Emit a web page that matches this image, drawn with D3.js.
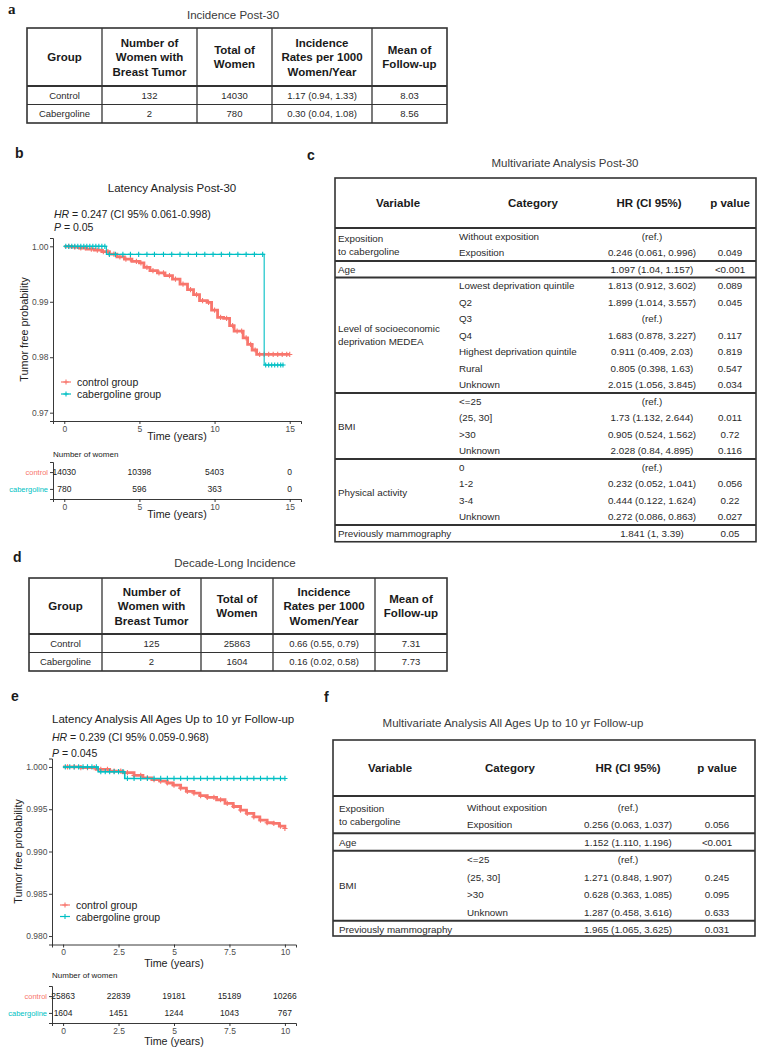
<!DOCTYPE html>
<html><head><meta charset="utf-8">
<script src="https://cdn.jsdelivr.net/npm/d3@7"></script>
<style>
body{margin:0;background:#fff}
svg{display:block;font-family:"Liberation Sans",Arial,sans-serif}
</style>
</head><body><svg id="fig" width="762" height="1050"></svg>
<script>
// ---------------- DATA ----------------
const incHeaders = [["Group"],["Number of","Women with","Breast Tumor"],["Total of","Women"],["Incidence","Rates per 1000","Women/Year"],["Mean of","Follow-up"]];
const incGroups = ["Control","Cabergoline"];
// panel a
const a_tumor = [132, 2];
const a_total = [14030, 780];
const a_rate = ["1.17 (0.94, 1.33)", "0.30 (0.04, 1.08)"];
const a_follow = [8.03, 8.56];
// panel d
const d_tumor = [125, 2];
const d_total = [25863, 1604];
const d_rate = ["0.66 (0.55, 0.79)", "0.16 (0.02, 0.58)"];
const d_follow = [7.31, 7.73];

const mvHeaders = ["Variable","Category","HR (CI 95%)","p value"];
// panel c
const c_variables = [["Exposition","to cabergoline"],["Age"],["Level of socioeconomic","deprivation MEDEA"],["BMI"],["Physical activity"],["Previously mammography"]];
const c_groupSizes = [2,1,7,4,4,1];
const c_categories = ["Without exposition","Exposition","","Lowest deprivation quintile","Q2","Q3","Q4","Highest deprivation quintile","Rural","Unknown","<=25","(25, 30]",">30","Unknown","0","1-2","3-4","Unknown",""];
const c_hr = ["(ref.)","0.246 (0.061, 0.996)","1.097 (1.04, 1.157)","1.813 (0.912, 3.602)","1.899 (1.014, 3.557)","(ref.)","1.683 (0.878, 3.227)","0.911 (0.409, 2.03)","0.805 (0.398, 1.63)","2.015 (1.056, 3.845)","(ref.)","1.73 (1.132, 2.644)","0.905 (0.524, 1.562)","2.028 (0.84, 4.895)","(ref.)","0.232 (0.052, 1.041)","0.444 (0.122, 1.624)","0.272 (0.086, 0.863)","1.841 (1, 3.39)"];
const c_p = ["","0.049","<0.001","0.089","0.045","","0.117","0.819","0.547","0.034","","0.011","0.72","0.116","","0.056","0.22","0.027","0.05"];
// panel f
const f_variables = [["Exposition","to cabergoline"],["Age"],["BMI"],["Previously mammography"]];
const f_groupSizes = [2,1,4,1];
const f_categories = ["Without exposition","Exposition","","<=25","(25, 30]",">30","Unknown",""];
const f_hr = ["(ref.)","0.256 (0.063, 1.037)","1.152 (1.110, 1.196)","(ref.)","1.271 (0.848, 1.907)","0.628 (0.363, 1.085)","1.287 (0.458, 3.616)","1.965 (1.065, 3.625)"];
const f_p = ["","0.056","<0.001","","0.245","0.095","0.633","0.031"];

// panel b KM (time, survival)
const b_control = [[0,1.0],[0.5,0.99985],[1.0,0.9997],[1.5,0.9995],[2.0,0.9993],[2.5,0.99905],[3.0,0.9986],[3.5,0.9981],[4.0,0.9977],[4.5,0.9973],[5.0,0.9970],[5.3,0.9962],[5.7,0.9956],[6.2,0.9952],[6.7,0.9947],[7.2,0.9941],[7.7,0.9932],[8.2,0.9922],[8.6,0.9913],[9.0,0.9902],[9.5,0.9899],[9.8,0.9885],[10.2,0.9872],[10.6,0.9870],[11.0,0.9857],[11.3,0.9847],[11.7,0.9847],[11.9,0.9835],[12.2,0.9823],[12.5,0.9813],[12.8,0.9805]];
const b_controlEnd = 15.0;
const b_cab = [[0,1.0],[2.8,0.99855],[13.3,0.9786]];
const b_cabEnd = 14.6;
const b_controlCensor = [0.3,0.7,1.1,1.4,1.8,2.2,2.6,2.9,3.3,3.7,4.1,4.4,4.8,5.1,5.5,5.9,6.3,6.6,7.0,7.4,7.9,8.4,8.8,9.2,9.6,10.0,10.4,10.8,11.2,11.5,11.8,12.1,12.4,12.7,13.0,13.3,13.6,13.9,14.2,14.5,14.8,15.0];
const b_cabCensor = [0.1,0.3,0.5,0.7,0.9,1.1,1.3,1.5,1.7,1.9,2.1,2.3,2.5,2.7,3.0,3.4,3.9,4.4,4.95,5.5,6.0,6.6,7.15,7.7,8.25,8.8,9.35,9.9,10.45,11.0,11.55,12.1,12.65,13.2,13.4,13.6,13.8,14.0,14.2,14.4,14.55];
const b_yTicks = [0.97,0.98,0.99,1.00];
const b_xTicks = [0,5,10,15];
const b_riskControl = [14030,10398,5403,0];
const b_riskCab = [780,596,363,0];

// panel e KM
const e_control = [[0,1.0],[0.8,0.99992],[1.5,0.99972],[2.1,0.9995],[2.7,0.99932],[3.2,0.999],[3.6,0.99872],[4.0,0.9985],[4.36,0.99832],[4.7,0.9981],[4.96,0.99784],[5.3,0.9975],[5.56,0.99712],[5.9,0.9969],[6.17,0.9966],[6.5,0.9964],[6.92,0.99612],[7.3,0.9957],[7.67,0.99532],[8.0,0.9949],[8.27,0.99452],[8.6,0.9941],[8.87,0.99372],[9.2,0.9934],[9.47,0.99332],[9.75,0.993],[10.0,0.99272]];
const e_controlEnd = 10.0;
const e_cab = [[0,1.0],[1.58,0.99944],[2.78,0.99864]];
const e_cabEnd = 10.0;
const e_controlCensor = [0.2,0.5,0.8,1.1,1.4,1.7,2.0,2.3,2.6,2.9,3.2,3.5,3.8,4.1,4.4,4.7,5.0,5.3,5.6,5.9,6.2,6.5,6.8,7.1,7.4,7.7,8.0,8.3,8.6,8.9,9.2,9.5,9.8,10.0];
const e_cabCensor = [0.1,0.3,0.5,0.7,0.9,1.1,1.3,1.5,1.7,1.9,2.1,2.3,2.5,2.7,2.9,3.2,3.5,3.8,4.1,4.4,4.7,5.0,5.3,5.6,5.9,6.2,6.5,6.8,7.1,7.4,7.7,8.0,8.3,8.6,8.9,9.2,9.5,9.8,10.0];
const e_yTicks = [0.980,0.985,0.990,0.995,1.000];
const e_xTicks = [0,2.5,5,7.5,10];
const e_riskControl = [25863,22839,19181,15189,10266];
const e_riskCab = [1604,1451,1244,1043,767];

const groupNames = ["control","cabergoline"];
const legendLabels = ["control group","cabergoline group"];

// ---------------- DRAWING ----------------
const svg = d3.select("#fig");
const RED = "#F8766D", TEAL = "#00BFC4";
const LINE = "#333", TXT = "#1a1a1a";

function txt(g, x, y, s, o) {
  o = o || {};
  return g.append("text").attr("x", x).attr("y", y).text(s)
    .attr("font-size", o.size || 10)
    .attr("font-weight", o.bold ? "bold" : null)
    .attr("font-family", o.family || null)
    .attr("text-anchor", o.anchor || "start")
    .attr("dominant-baseline", "central")
    .attr("fill", o.fill || TXT);
}

// panel labels
txt(svg, 8, 9, "a", {size: 15, bold: true, family: "Liberation Serif"});
txt(svg, 15, 153, "b", {size: 14, bold: true});
txt(svg, 307, 155, "c", {size: 14, bold: true});
txt(svg, 13, 557, "d", {size: 14, bold: true});
txt(svg, 11, 696, "e", {size: 14, bold: true});
txt(svg, 324, 697, "f", {size: 14, bold: true});

function hline(g, x1, x2, y, w) { g.append("line").attr("x1", x1).attr("x2", x2).attr("y1", y).attr("y2", y).attr("stroke", LINE).attr("stroke-width", w); }
function vline(g, x, y1, y2, w) { g.append("line").attr("x1", x).attr("x2", x).attr("y1", y1).attr("y2", y2).attr("stroke", LINE).attr("stroke-width", w); }

// incidence tables
function incTable(cfg, tumor, total, rate, follow) {
  const g = svg.append("g");
  const cols = cfg.cols;
  txt(g, cfg.titleX, cfg.titleY, cfg.title, {size: 11.5, anchor: "middle", fill: "#3a3a3a"});
  const rowsY = d3.scaleLinear().domain([0, 2]).range([cfg.hb, cfg.bottom]);
  g.append("rect").attr("x", cols[0]).attr("y", cfg.top).attr("width", cols[cols.length-1]-cols[0])
    .attr("height", cfg.bottom - cfg.top).attr("fill", "none").attr("stroke", LINE).attr("stroke-width", 1.6);
  cols.slice(1, -1).forEach(x => vline(g, x, cfg.top, cfg.bottom, 1.3));
  hline(g, cols[0], cols[cols.length-1], cfg.hb, 2.2);
  hline(g, cols[0], cols[cols.length-1], rowsY(1), 1.2);
  const mid = (cfg.top + cfg.hb) / 2;
  incHeaders.forEach((lines, c) => {
    const cx = (cols[c] + cols[c+1]) / 2;
    lines.forEach((l, i) => txt(g, cx, mid + (i - (lines.length-1)/2) * 14.5, l, {size: 11.5, bold: true, anchor: "middle"}));
  });
  incGroups.forEach((grp, r) => {
    const y = rowsY(r + 0.5);
    const vals = [grp, tumor[r], total[r], rate[r], follow[r].toFixed(2)];
    vals.forEach((v, c) => txt(g, (cols[c] + cols[c+1]) / 2, y, v, {size: 9.5, anchor: "middle", fill: "#2a2a2a"}));
  });
}
incTable({cols: [27,102,197,272,372,447], top: 28, hb: 86, bottom: 123, title: "Incidence Post-30", titleX: 233, titleY: 15}, a_tumor, a_total, a_rate, a_follow);
incTable({cols: [29,102,201,273,375,447], top: 578, hb: 634, bottom: 671, title: "Decade-Long Incidence", titleX: 235, titleY: 563}, d_tumor, d_total, d_rate, d_follow);

// multivariate tables
function mvTable(cfg, variables, sizes, cats, hr, pv) {
  const g = svg.append("g");
  txt(g, cfg.titleX, cfg.titleY, cfg.title, {size: 11.5, anchor: "middle", fill: "#3a3a3a"});
  const n = cats.length;
  const rowY = d3.scaleLinear().domain([0, n - 1]).range([cfg.hb + cfg.pad, cfg.hb + cfg.pad + (n - 1) * cfg.rowH]);
  const bottom = rowY(n - 1) + cfg.bpad;
  g.append("rect").attr("x", cfg.left).attr("y", cfg.top).attr("width", cfg.right - cfg.left)
    .attr("height", bottom - cfg.top).attr("fill", "none").attr("stroke", LINE).attr("stroke-width", 1.6);
  hline(g, cfg.left, cfg.right, cfg.hb, 2.2);
  mvHeaders.forEach((h, i) => txt(g, cfg.headX[i], cfg.headY, h, {size: 11.5, bold: true, anchor: "middle"}));
  let start = 0;
  sizes.forEach((s, gi) => {
    if (gi > 0) hline(g, cfg.left, cfg.right, rowY(start - 0.5), 1.8);
    const cy = (gi === 0 ? (cfg.hb + rowY(start + s - 0.5)) / 2 : (rowY(start - 0.5) + (gi === sizes.length - 1 ? bottom : rowY(start + s - 0.5))) / 2);
    const lines = variables[gi];
    const cyy = s === 1 ? rowY(start) : cy;
    lines.forEach((l, li) => txt(g, cfg.varX, cyy + (li - (lines.length-1)/2) * 13, l, {size: 9.8, fill: "#2a2a2a"}));
    start += s;
  });
  cats.forEach((c, i) => {
    const y = rowY(i);
    if (c) txt(g, cfg.catX, y, c, {size: 9.8, fill: "#2a2a2a"});
    txt(g, cfg.hrX, y, hr[i], {size: 9.8, anchor: "middle", fill: "#2a2a2a"});
    if (pv[i]) txt(g, cfg.pX, y, pv[i], {size: 9.8, anchor: "middle", fill: "#2a2a2a"});
  });
}
mvTable({title: "Multivariate Analysis Post-30", titleX: 565, titleY: 163, left: 335, right: 756, top: 178, headY: 203, hb: 228,
  rowH: 16.5, pad: 8.25, bpad: 8.5, varX: 338, catX: 459, hrX: 652, pX: 730, headX: [398, 533, 649, 730]},
  c_variables, c_groupSizes, c_categories, c_hr, c_p);
mvTable({title: "Multivariate Analysis All Ages Up to 10 yr Follow-up", titleX: 513, titleY: 723, left: 333, right: 755, top: 740, headY: 768, hb: 796,
  rowH: 17.5, pad: 11, bpad: 6.5, varX: 339, catX: 467, hrX: 628, pX: 717, headX: [390, 510, 628, 717]},
  f_variables, f_groupSizes, f_categories, f_hr, f_p);

// KM plots
function survAt(steps, t) { let s = steps[0][1]; for (const [ti, si] of steps) if (ti <= t) s = si; return s; }
const plus = "M-2.6,0H2.6M0,-2.6V2.6";

function kmPanel(cfg) {
  const g = svg.append("g");
  const x = d3.scaleLinear().domain(cfg.xDom).range(cfg.xRange);
  const y = d3.scaleLinear().domain(cfg.yDom).range(cfg.yRange);
  txt(g, cfg.titleX, cfg.titleY, cfg.title, {size: 11.5, anchor: cfg.titleAnchor, fill: "#222"});
  const hrT = g.append("text").attr("x", cfg.annX).attr("y", cfg.hrY).attr("font-size", 10.5).attr("dominant-baseline", "central").attr("fill", "#222");
  hrT.append("tspan").attr("font-style", "italic").text("HR");
  hrT.append("tspan").text(cfg.hrText);
  const pT = g.append("text").attr("x", cfg.annX).attr("y", cfg.pY).attr("font-size", 10.5).attr("dominant-baseline", "central").attr("fill", "#222");
  pT.append("tspan").attr("font-style", "italic").text("P");
  pT.append("tspan").text(cfg.pText);
  const ax = g.append("g").attr("transform", `translate(0,${cfg.yRange[0]})`)
    .call(d3.axisBottom(x).tickValues(cfg.xTicks).tickFormat(d => d).tickSizeOuter(0).tickSize(3).tickPadding(1.5));
  const ay = g.append("g").attr("transform", `translate(${cfg.xRange[0]},0)`)
    .call(d3.axisLeft(y).tickValues(cfg.yTicks).tickFormat(d3.format(cfg.yFmt)).tickSizeOuter(0).tickSize(3).tickPadding(1.5));
  [ax, ay].forEach(a => {
    a.selectAll("path,line").attr("stroke", "#222").attr("stroke-width", 0.9);
    a.selectAll("text").attr("font-size", 8.5).attr("fill", "#4d4d4d").attr("font-family", "Liberation Sans, Arial, sans-serif");
  });
  txt(g, (cfg.xRange[0] + cfg.xRange[1]) / 2, cfg.xLabY, "Time (years)", {size: 10.7, anchor: "middle", fill: "#222"});
  g.append("text").attr("transform", `translate(${cfg.yLabX},${(cfg.yRange[0] + cfg.yRange[1]) / 2}) rotate(-90)`)
    .attr("text-anchor", "middle").attr("dominant-baseline", "central").attr("font-size", 10.8).attr("fill", "#222").text("Tumor free probability");
  const line = d3.line().x(d => x(d[0])).y(d => y(d[1])).curve(d3.curveStepAfter);
  const series = [
    {steps: cfg.control, end: cfg.controlEnd, cens: cfg.controlCensor, color: RED, w: cfg.redW},
    {steps: cfg.cab, end: cfg.cabEnd, cens: cfg.cabCensor, color: TEAL, w: cfg.tealW}
  ];
  series.forEach(s => {
    const pts = s.steps.concat([[s.end, s.steps[s.steps.length - 1][1]]]);
    g.append("path").attr("d", line(pts)).attr("fill", "none").attr("stroke", s.color).attr("stroke-width", s.w);
    g.selectAll(null).data(s.cens).enter().append("path")
      .attr("transform", t => `translate(${x(t)},${y(survAt(s.steps, t))})`)
      .attr("d", plus).attr("stroke", s.color).attr("stroke-width", 1.1).attr("fill", "none");
  });
  [RED, TEAL].forEach((c, i) => {
    const ly = cfg.legY + i * cfg.legDy;
    g.append("line").attr("x1", cfg.legX - 5).attr("x2", cfg.legX + 5).attr("y1", ly).attr("y2", ly).attr("stroke", c).attr("stroke-width", 1.2);
    g.append("path").attr("transform", `translate(${cfg.legX},${ly})`).attr("d", plus).attr("stroke", c).attr("stroke-width", 1.1);
    txt(g, cfg.legX + 11, ly, legendLabels[i], {size: 10.5, fill: "#222"});
  });
  const ry = d3.scalePoint().domain(groupNames).range(cfg.riskRange).padding(0.6);
  txt(g, cfg.xRange[0], cfg.riskTitleY, "Number of women", {size: 8, fill: "#222"});
  const rax = g.append("g").attr("transform", `translate(0,${cfg.riskRange[1]})`)
    .call(d3.axisBottom(x).tickValues(cfg.xTicks).tickFormat(d => d).tickSizeOuter(0).tickSize(3).tickPadding(1.5));
  const ray = g.append("g").attr("transform", `translate(${cfg.xRange[0]},0)`)
    .call(d3.axisLeft(ry).tickSizeOuter(0).tickSize(3).tickPadding(2));
  [rax, ray].forEach(a => {
    a.selectAll("path,line").attr("stroke", "#222").attr("stroke-width", 0.9);
    a.selectAll("text").attr("font-size", 8.5).attr("fill", "#4d4d4d").attr("font-family", "Liberation Sans, Arial, sans-serif");
  });
  ray.selectAll("text").attr("font-size", 7.5).attr("fill", (d, i) => i === 0 ? RED : TEAL);
  [cfg.riskControl, cfg.riskCab].forEach((vals, gi) => {
    vals.forEach((v, i) => txt(g, x(cfg.xTicks[i]), ry(groupNames[gi]), v, {size: 8.5, anchor: "middle", fill: "#222"}));
  });
  txt(g, (cfg.xRange[0] + cfg.xRange[1]) / 2, cfg.riskXLabY, "Time (years)", {size: 10.7, anchor: "middle", fill: "#222"});
}

kmPanel({
  title: "Latency Analysis Post-30", titleX: 172, titleY: 188, titleAnchor: "middle",
  annX: 54, hrY: 214, pY: 227, hrText: " = 0.247 (CI 95% 0.061-0.998)", pText: " = 0.05",
  xDom: [-0.75, 15.75], xRange: [53, 301], yDom: [0.9685, 1.0015], yRange: [421, 238],
  xTicks: b_xTicks, yTicks: b_yTicks, yFmt: ".2f", xLabY: 436, yLabX: 24,
  control: b_control, controlEnd: b_controlEnd, controlCensor: b_controlCensor,
  cab: b_cab, cabEnd: b_cabEnd, cabCensor: b_cabCensor, redW: 2.8, tealW: 1.1,
  legX: 66, legY: 382, legDy: 12,
  riskRange: [462, 499], riskTitleY: 454, riskControl: b_riskControl, riskCab: b_riskCab, riskXLabY: 514
});
kmPanel({
  title: "Latency Analysis All Ages Up to 10 yr Follow-up", titleX: 52, titleY: 719, titleAnchor: "start",
  annX: 52, hrY: 737, pY: 753, hrText: " = 0.239 (CI 95% 0.059-0.968)", pText: " = 0.045",
  xDom: [-0.5, 10.5], xRange: [52, 296], yDom: [0.979, 1.001], yRange: [944.5, 758.5],
  xTicks: e_xTicks, yTicks: e_yTicks, yFmt: ".3f", xLabY: 963, yLabX: 18,
  control: e_control, controlEnd: e_controlEnd, controlCensor: e_controlCensor,
  cab: e_cab, cabEnd: e_cabEnd, cabCensor: e_cabCensor, redW: 2.8, tealW: 1.6,
  legX: 65, legY: 905, legDy: 11.5,
  riskRange: [986, 1023], riskTitleY: 975, riskControl: e_riskControl, riskCab: e_riskCab, riskXLabY: 1041
});
</script></body></html>
